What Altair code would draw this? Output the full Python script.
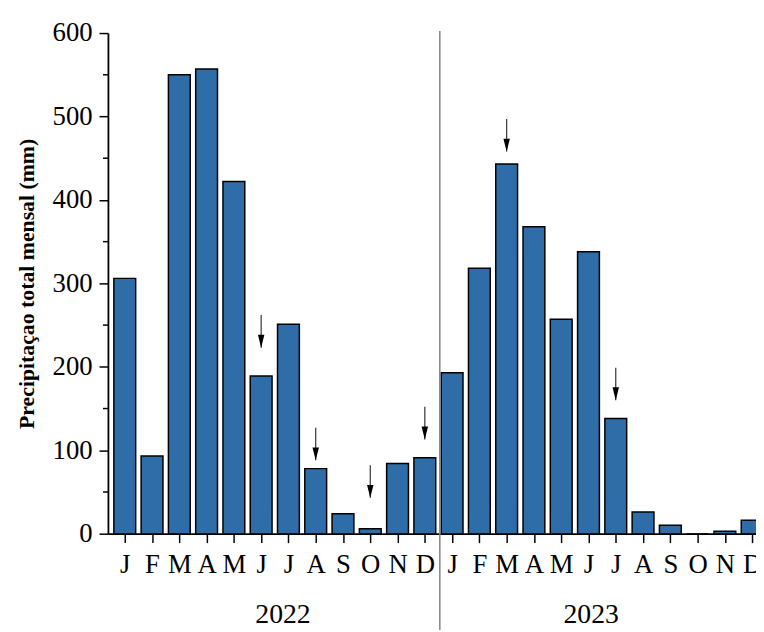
import altair as alt
import pandas as pd

# ---- data ----
months = ["J", "F", "M", "A", "M", "J", "J", "A", "S", "O", "N", "D"]
years = ["2022", "2023"]
rain_2022 = [306, 93, 550, 557, 422, 189, 251, 78, 24, 6, 84, 91]
rain_2023 = [193, 318, 443, 368, 257, 338, 138, 26, 10, 0, 3, 16]

# arrows: month index (0..23), start value (top) and tip value
arrow_idx = [5, 7, 9, 11, 14, 18]
arrow_top = [262, 127, 82, 152, 497, 199]
arrow_tip = [223, 88, 43, 113, 458, 160]

y_major = [0, 100, 200, 300, 400, 500, 600]
y_minor = [50, 150, 250, 350, 450, 550]

FONT = "Liberation Serif"
BLUE = "#2e6da7"
W, H = 655, 506

values = rain_2022 + rain_2023
bars = pd.DataFrame({
    "idx": list(range(len(values))),
    "value": values,
})
arrows = pd.DataFrame({"idx": arrow_idx, "top": arrow_top, "tip": arrow_tip})
minor = pd.DataFrame({"v": y_minor})
yr = pd.DataFrame({"year": years, "pos": [5.8, 17.1]})

xscale = alt.Scale(domain=[-0.617, 23.141], nice=False, zero=False)
yscale = alt.Scale(domain=[0, 600], nice=False)

label_expr = "[" + ",".join("'%s'" % m for m in months) + "][datum.value % 12]"

XAXIS = alt.Axis(values=list(range(24)), labelExpr=label_expr,
                 title=None, grid=False, tickSize=9, tickWidth=1.5,
                 tickColor="black", domainColor="black", domainWidth=1.8,
                 labelFont=FONT, labelFontSize=27, labelColor="black",
                 labelPadding=9, labelFlush=False, labelOverlap=False)
YAXIS = alt.Axis(values=y_major, format="d", grid=False,
                 title="Precipitaçao total mensal (mm)",
                 titleFont=FONT, titleFontSize=22, titleFontWeight="bold",
                 titleColor="black", titleX=-75, titleY=H / 2,
                 titleAngle=270, titleAlign="center",
                 titleBaseline="alphabetic",
                 tickSize=9, tickWidth=1.5, tickColor="black",
                 domainColor="black", domainWidth=1.8,
                 labelFont=FONT, labelFontSize=27, labelColor="black",
                 labelPadding=7, labelOverlap=False)

bar_layer = alt.Chart(bars).transform_calculate(
    x0="datum.idx - 0.4", x1="datum.idx + 0.4"
).mark_rect(fill=BLUE, stroke="black", strokeWidth=1.5, clip=True).encode(
    x=alt.X("x0:Q", scale=xscale, axis=XAXIS),
    x2="x1:Q",
    y=alt.Y("value:Q", scale=yscale, axis=YAXIS),
    y2=alt.datum(0),
)

minor_layer = alt.Chart(minor).mark_rule(color="black", strokeWidth=1.5).encode(
    x=alt.value(-5), x2=alt.value(0),
    y=alt.Y("v:Q", scale=yscale, axis=YAXIS),
)

sep_layer = alt.Chart(pd.DataFrame({"a": [0]})).mark_rule(
    color="#8a8a8a", strokeWidth=1.6
).encode(
    x=alt.X(datum=11.55, scale=xscale, axis=XAXIS),
    y=alt.value(-2), y2=alt.value(H + 100),
)

shaft_layer = alt.Chart(arrows).mark_rule(color="#333333", strokeWidth=1.2).encode(
    x=alt.X("idx:Q", scale=xscale, axis=XAXIS),
    y=alt.Y("top:Q", scale=yscale, axis=YAXIS),
    y2="tip:Q",
)

head_layer = alt.Chart(arrows).mark_point(
    shape="M-0.5,-2L0.5,-2L0,0Z", filled=True, color="black",
    size=169, opacity=1, strokeWidth=0
).encode(
    x=alt.X("idx:Q", scale=xscale, axis=XAXIS),
    y=alt.Y("tip:Q", scale=yscale, axis=YAXIS),
)

year_layer = alt.Chart(yr).mark_text(
    font=FONT, fontSize=28, color="black", baseline="alphabetic", align="center"
).encode(
    x=alt.X("pos:Q", scale=xscale, axis=XAXIS),
    y=alt.value(H + 90),
    text="year:N",
)

chart = alt.layer(
    bar_layer, minor_layer, sep_layer, shaft_layer, head_layer, year_layer
).properties(
    width=W, height=H,
    background="white",
    autosize=alt.AutoSizeParams(type="none"),
    padding={"left": 101, "top": 22, "right": 0, "bottom": 94},
).configure_view(stroke=None)

chart.save("out.html", embed_options={"renderer": "svg", "actions": False})
